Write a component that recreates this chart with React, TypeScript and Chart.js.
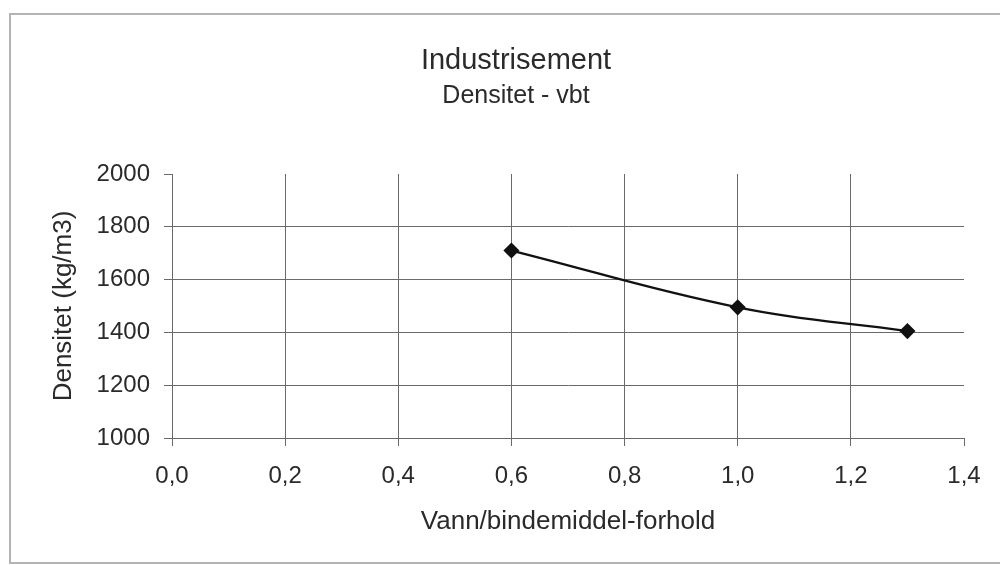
import React, { useEffect, useRef } from "react";
import { Chart, registerables } from "chart.js";

Chart.register(...registerables);

// Measured density against water/binder ratio
const waterBinderRatio = [0.6, 1.0, 1.3];
const densityKgM3 = [1710, 1495, 1405];

// Axis ranges and tick spacing
const xRange = [0, 1.4];
const xStep = 0.2;
const yRange = [1000, 2000];
const yStep = 200;

const chartTitle = "Industrisement";
const chartSubtitle = "Densitet - vbt";
const xAxisTitle = "Vann/bindemiddel-forhold";
const yAxisTitle = "Densitet (kg/m3)";

const FONT = "'Liberation Sans', Arial, Helvetica, sans-serif";
const GRID = "#6a6a6a";
const TEXT = "#2a2a2a";

export default function App() {
  const canvasRef = useRef<HTMLCanvasElement | null>(null);

  useEffect(() => {
    const canvas = canvasRef.current;
    if (!canvas) return;

    const points = waterBinderRatio.map((x, i) => ({ x, y: densityKgM3[i] }));
    const isLast = (v: number, end: number) => Math.abs(v - end) < 1e-9;

    const chart = new Chart(canvas, {
      type: "line",
      data: {
        datasets: [
          {
            data: points,
            borderColor: "#111111",
            backgroundColor: "#111111",
            borderWidth: 2.2,
            tension: 0.4,
            pointStyle: "rectRot",
            pointRadius: 6.5,
            pointHoverRadius: 6.5,
            pointBackgroundColor: "#111111",
            pointBorderColor: "#111111",
          },
        ],
      },
      options: {
        animation: false,
        responsive: false,
        devicePixelRatio: 1,
        layout: { padding: { left: 68, right: 36, top: 0, bottom: 0 } },
        plugins: {
          legend: { display: false },
          tooltip: { enabled: false },
          title: {
            display: true,
            text: chartTitle,
            color: TEXT,
            font: { family: FONT, size: 29, weight: "normal" },
            padding: { top: 43.6, bottom: 0 },
          },
          subtitle: {
            display: true,
            text: chartSubtitle,
            color: TEXT,
            font: { family: FONT, size: 25, weight: "normal" },
            padding: { top: 2.6, bottom: 63 },
          },
        },
        scales: {
          x: {
            type: "linear",
            min: xRange[0],
            max: xRange[1],
            afterFit: (scale: any) => {
              scale.height = 127;
            },
            ticks: {
              stepSize: xStep,
              autoSkip: false,
              maxRotation: 0,
              padding: 15.6,
              color: TEXT,
              font: { family: FONT, size: 24 },
              callback: (v: any) => Number(v).toFixed(1).replace(".", ","),
            },
            grid: {
              color: (ctx: any) =>
                ctx.tick && isLast(ctx.tick.value, xRange[1]) ? "rgba(0,0,0,0)" : GRID,
              tickColor: GRID,
              tickLength: 8,
              lineWidth: 1,
            },
            border: { display: true, color: GRID, width: 1 },
            title: {
              display: true,
              text: xAxisTitle,
              color: TEXT,
              font: { family: FONT, size: 26 },
              padding: { top: 0, bottom: 27.4 },
            },
          },
          y: {
            type: "linear",
            min: yRange[0],
            max: yRange[1],
            afterFit: (scale: any) => {
              scale.width = 104;
            },
            ticks: {
              stepSize: yStep,
              padding: 14,
              color: TEXT,
              font: { family: FONT, size: 24 },
              callback: (v: any) => String(Math.round(Number(v))),
            },
            grid: {
              color: (ctx: any) =>
                ctx.tick && isLast(ctx.tick.value, yRange[1]) ? "rgba(0,0,0,0)" : GRID,
              tickColor: GRID,
              tickLength: 8,
              lineWidth: 1,
            },
            border: { display: true, color: GRID, width: 1 },
            title: {
              display: true,
              text: yAxisTitle,
              color: TEXT,
              font: { family: FONT, size: 26 },
              padding: { top: -19.6, bottom: 0 },
            },
          },
        },
      },
    });

    return () => chart.destroy();
  }, []);

  return (
    <div
      style={{
        position: "absolute",
        left: 0,
        top: 0,
        width: 1000,
        height: 565,
        overflow: "hidden",
        background: "#ffffff",
      }}
    >
      <div
        style={{
          position: "absolute",
          left: 9,
          top: 13,
          width: 1010,
          height: 547,
          border: "2px solid #b4b4b4",
        }}
      />
      <canvas
        ref={canvasRef}
        width={1000}
        height={565}
        style={{ position: "absolute", left: 0, top: 0, width: 1000, height: 565 }}
      />
    </div>
  );
}
